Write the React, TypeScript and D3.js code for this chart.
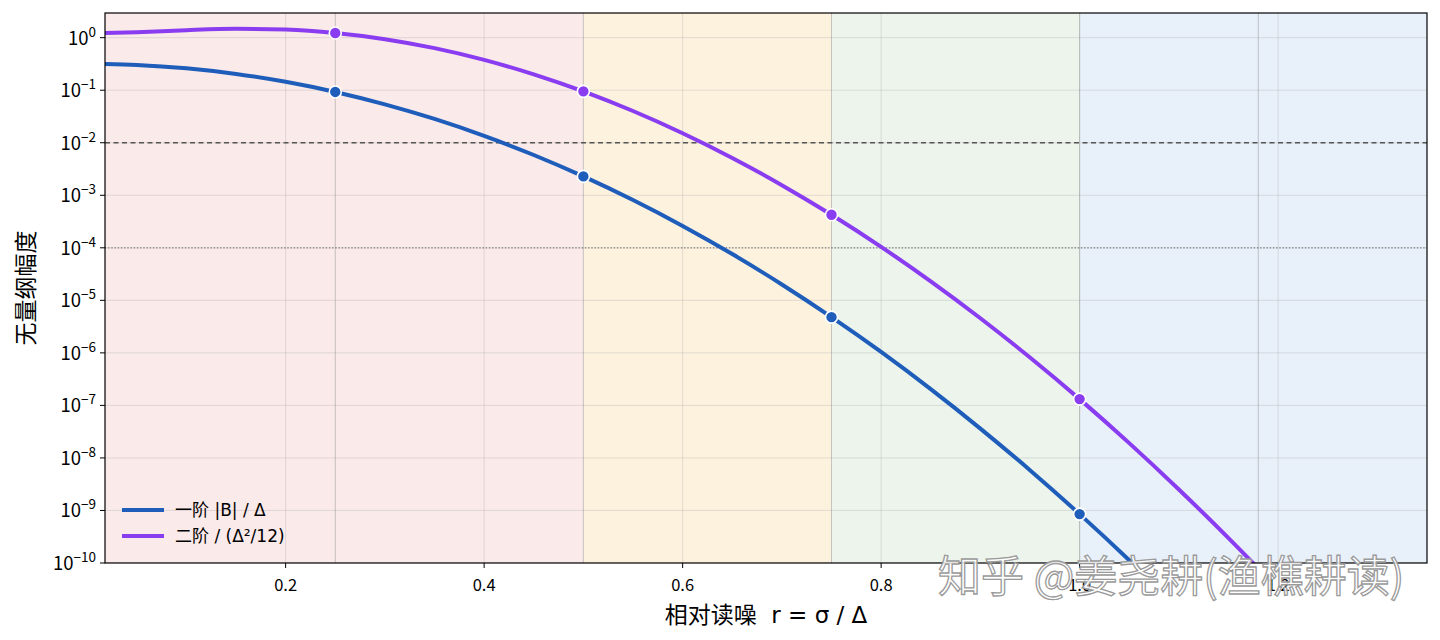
import React, { useEffect, useRef } from 'react';
import * as d3 from 'd3';

// r = sigma / delta
const rValues = [0.015, 0.05, 0.1, 0.15, 0.2, 0.25, 0.3, 0.35, 0.4, 0.45, 0.5, 0.55, 0.6, 0.65, 0.7, 0.75, 0.8, 0.85, 0.9, 0.95, 1.0, 1.05, 1.1, 1.15, 1.2, 1.25];
const firstOrder = [0.3169, 0.3030, 0.2613, 0.2042, 0.1445, 0.0927, 0.05387, 0.02836, 0.01353, 0.005846, 0.002289, 8.12e-4, 2.61e-4, 7.60e-5, 2.006e-5, 4.79e-6, 1.04e-6, 2.04e-7, 3.62e-8, 5.84e-9, 8.52e-10, 1.13e-10, 1.35e-11, 1.46e-12, 1.4e-13, 1.3e-14];
const secondOrder = [1.221, 1.272, 1.392, 1.4725, 1.424, 1.228, 0.9368, 0.6321, 0.3780, 0.2009, 0.09505, 0.04015, 0.01517, 0.005134, 0.001559, 4.25e-4, 1.042e-4, 2.298e-5, 4.56e-6, 8.16e-7, 1.317e-7, 1.915e-8, 2.51e-9, 2.98e-10, 3.18e-11, 3.07e-12];
const markerR = [0.25, 0.5, 0.75, 1.0];

const bandEdges = [0.0, 0.5, 0.75, 1.0, 1.4];
const bandColors = ['#faeae9', '#fdf2de', '#ecf4eb', '#e8f0f9'];
const markLines = [0.25, 0.5, 0.75, 1.0, 1.18];
const xTicks = [0.2, 0.4, 0.6, 0.8, 1.0, 1.2];
const yExponents = [0, -1, -2, -3, -4, -5, -6, -7, -8, -9, -10];

const seriesNames = ['一阶 |B| / Δ', '二阶 / (Δ²/12)'];
const seriesColors = ['#1f5dbb', '#8a3df0'];

const W = 1424;
const H = 624;
const M = { left: 97, top: 5, right: 1419, bottom: 555 };
const FONT = '"Noto Sans CJK SC", "Noto Sans", sans-serif';
const WIDE = '"DejaVu Sans", "Noto Sans CJK SC", sans-serif';

export default function App() {
    const svgRef = useRef<SVGSVGElement>(null);

    useEffect(() => {
        if (!svgRef.current) return;
        const svg = d3.select(svgRef.current);
        svg.selectAll('*').remove();

        const x = d3.scaleLinear().domain([0.018, 1.35]).range([M.left, M.right]);
        const y = d3.scaleLog().domain([1e-10, 2.95]).range([M.bottom, M.top]);

        svg.append('defs').append('clipPath').attr('id', 'plot-clip')
            .append('rect')
            .attr('x', M.left).attr('y', M.top)
            .attr('width', M.right - M.left).attr('height', M.bottom - M.top);

        const plot = svg.append('g').attr('clip-path', 'url(#plot-clip)');

        // background bands
        plot.selectAll('rect.band')
            .data(bandColors)
            .join('rect')
            .attr('class', 'band')
            .attr('x', (_, i) => x(bandEdges[i]))
            .attr('y', M.top)
            .attr('width', (_, i) => x(bandEdges[i + 1]) - x(bandEdges[i]))
            .attr('height', M.bottom - M.top)
            .attr('fill', (d) => d);

        // grid
        plot.selectAll('line.vgrid')
            .data(xTicks)
            .join('line')
            .attr('x1', (d) => x(d)).attr('x2', (d) => x(d))
            .attr('y1', M.top).attr('y2', M.bottom)
            .attr('stroke', '#b0b0b0').attr('stroke-opacity', 0.35).attr('stroke-width', 1);
        plot.selectAll('line.hgrid')
            .data(yExponents)
            .join('line')
            .attr('x1', M.left).attr('x2', M.right)
            .attr('y1', (d) => y(Math.pow(10, d))).attr('y2', (d) => y(Math.pow(10, d)))
            .attr('stroke', '#b0b0b0').attr('stroke-opacity', 0.35).attr('stroke-width', 1);

        // marker lines
        plot.selectAll('line.mark')
            .data(markLines)
            .join('line')
            .attr('x1', (d) => x(d)).attr('x2', (d) => x(d))
            .attr('y1', M.top).attr('y2', M.bottom)
            .attr('stroke', '#888').attr('stroke-opacity', 0.45).attr('stroke-width', 1);

        // thresholds
        plot.append('line')
            .attr('x1', M.left).attr('x2', M.right)
            .attr('y1', y(1e-2)).attr('y2', y(1e-2))
            .attr('stroke', '#555').attr('stroke-width', 1.3).attr('stroke-dasharray', '5,3.5');
        plot.append('line')
            .attr('x1', M.left).attr('x2', M.right)
            .attr('y1', y(1e-4)).attr('y2', y(1e-4))
            .attr('stroke', '#777').attr('stroke-width', 1.2).attr('stroke-dasharray', '1.2,2');

        const series = [firstOrder, secondOrder];
        const line = d3.line<number>()
            .x((_, i) => x(rValues[i]))
            .y((d) => y(d))
            .curve(d3.curveMonotoneX);

        series.forEach((vals, s) => {
            plot.append('path')
                .attr('d', line(vals))
                .attr('fill', 'none')
                .attr('stroke', seriesColors[s])
                .attr('stroke-width', 4)
                .attr('stroke-linecap', 'round');
        });
        series.forEach((vals, s) => {
            plot.selectAll(`circle.m${s}`)
                .data(markerR)
                .join('circle')
                .attr('cx', (d) => x(d))
                .attr('cy', (d) => y(vals[rValues.indexOf(d)]))
                .attr('r', 6)
                .attr('fill', seriesColors[s])
                .attr('stroke', '#fff')
                .attr('stroke-width', 1.6);
        });

        // frame
        svg.append('rect')
            .attr('x', M.left).attr('y', M.top)
            .attr('width', M.right - M.left).attr('height', M.bottom - M.top)
            .attr('fill', 'none').attr('stroke', '#000').attr('stroke-width', 1.2);

        // x axis
        const xa = svg.append('g');
        xTicks.forEach((t) => {
            xa.append('line')
                .attr('x1', x(t)).attr('x2', x(t))
                .attr('y1', M.bottom).attr('y2', M.bottom + 5)
                .attr('stroke', '#000').attr('stroke-width', 1);
            xa.append('text')
                .attr('x', x(t)).attr('y', M.bottom + 28)
                .attr('text-anchor', 'middle')
                .attr('font-size', 16.5).attr('font-family', FONT)
                .text(t.toFixed(1));
        });

        // y axis
        const ya = svg.append('g');
        yExponents.forEach((e) => {
            const yy = y(Math.pow(10, e));
            ya.append('line')
                .attr('x1', M.left - 5).attr('x2', M.left)
                .attr('y1', yy).attr('y2', yy)
                .attr('stroke', '#000').attr('stroke-width', 1);
            const t = ya.append('text')
                .attr('x', M.left - 9).attr('y', yy + 7)
                .attr('text-anchor', 'end')
                .attr('font-size', 18.5).attr('font-family', FONT);
            t.append('tspan').text('10');
            t.append('tspan')
                .attr('dy', -8).attr('font-size', 13.5)
                .text(e === 0 ? '0' : `−${-e}`);
        });

        svg.append('text')
            .attr('x', (M.left + M.right) / 2).attr('y', M.bottom + 60)
            .attr('text-anchor', 'middle')
            .attr('font-size', 23).attr('font-family', WIDE)
            .style('white-space', 'pre')
            .text('相对读噪  r = σ / Δ');
        svg.append('text')
            .attr('transform', `translate(26,${(M.top + M.bottom) / 2}) rotate(-90)`)
            .attr('text-anchor', 'middle')
            .attr('font-size', 23).attr('font-family', FONT)
            .text('无量纲幅度');

        // legend
        const lg = svg.append('g');
        seriesNames.forEach((name, i) => {
            const ly = 502 + i * 26;
            lg.append('line')
                .attr('x1', 114).attr('x2', 156)
                .attr('y1', ly).attr('y2', ly)
                .attr('stroke', seriesColors[i]).attr('stroke-width', 4);
            lg.append('text')
                .attr('x', 167).attr('y', ly + 6)
                .attr('font-size', 17).attr('font-family', WIDE)
                .text(name);
        });

        // watermark
        svg.append('text')
            .attr('x', 930).attr('y', 584)
            .attr('font-size', 43).attr('font-family', FONT)
            .attr('fill', '#fff').attr('fill-opacity', 0.85)
            .attr('stroke', '#9a9a9a').attr('stroke-width', 1.3)
            .text('知乎 @姜尧耕(渔樵耕读)');
    }, []);

    return (
        <svg ref={svgRef} width={W} height={H} style={{ display: 'block', background: '#fff' }} />
    );
}
